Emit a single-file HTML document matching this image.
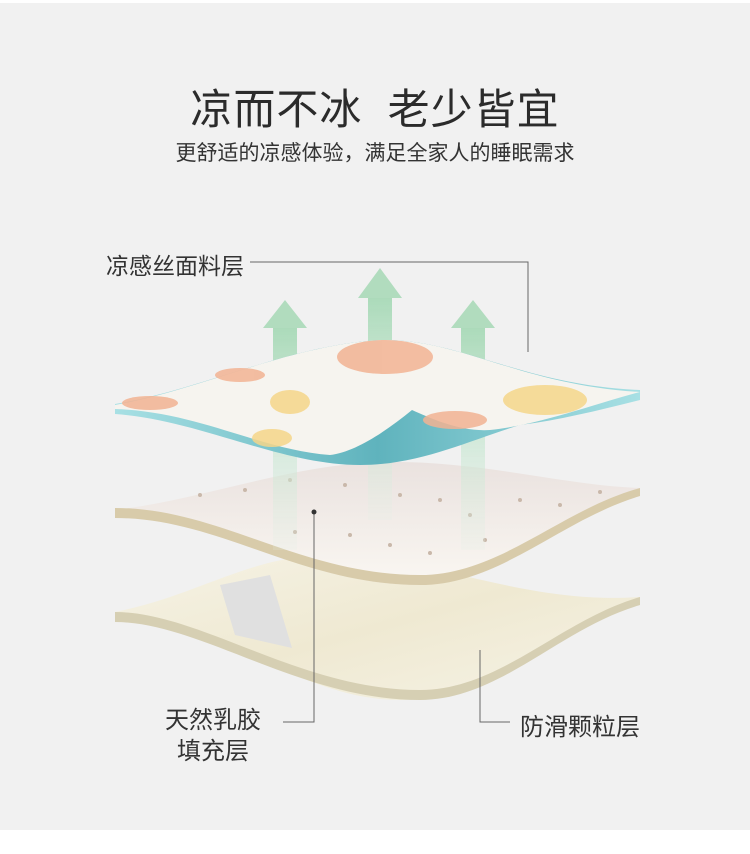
<!DOCTYPE html>
<html><head><meta charset="utf-8"><style>
html,body{margin:0;padding:0;background:#fff}
#c{position:relative;width:750px;height:854px;overflow:hidden;font-family:"Liberation Sans","Noto Sans CJK SC",sans-serif;color:#333}
#bg{position:absolute;left:0;top:3px;width:750px;height:827px;background:#f1f1f1}
.t{position:absolute;white-space:nowrap}
</style></head><body><div id="c">
<div id="bg"></div>
<div class="t" style="left:0;width:750px;text-align:center;top:76px;font-size:42px;color:#2b2b2b;letter-spacing:1px">凉而不冰&nbsp;&nbsp;老少皆宜</div>
<div class="t" style="left:0;width:750px;text-align:center;top:137px;font-size:21px;color:#333">更舒适的凉感体验，满足全家人的睡眠需求</div>
<div class="t" style="left:106px;top:247px;font-size:23px;color:#333">凉感丝面料层</div>
<div class="t" style="left:165px;top:700px;font-size:24px;color:#333">天然乳胶</div>
<div class="t" style="left:177px;top:731px;font-size:24px;color:#333">填充层</div>
<div class="t" style="left:520px;top:707px;font-size:24px;color:#333">防滑颗粒层</div>
<svg width="750" height="854" style="position:absolute;left:0;top:0">
<defs>
<linearGradient id="ga" x1="0" y1="0" x2="0" y2="1">
<stop offset="0" stop-color="#9fd6b0"/><stop offset="0.5" stop-color="#c4e6cf" stop-opacity=".8"/><stop offset="1" stop-color="#e0efe4" stop-opacity=".2"/></linearGradient>
<linearGradient id="gb" x1="0" y1="0" x2="1" y2="0">
<stop offset="0" stop-color="#a8e0e4"/><stop offset=".5" stop-color="#5fb3bd"/><stop offset="1" stop-color="#a8e0e4"/></linearGradient>
<linearGradient id="gm" x1="0" y1="0" x2="0" y2="1">
<stop offset="0" stop-color="#eae2df"/><stop offset="1" stop-color="#faf7f2"/></linearGradient>
<linearGradient id="gq" x1="0" y1="0" x2="1" y2="1">
<stop offset="0" stop-color="#f6f3e6"/><stop offset=".5" stop-color="#efe9d2"/><stop offset="1" stop-color="#f6f3e6"/></linearGradient>
</defs>
<!-- bottom layer -->
<path d="M115,612 C200,595 250,555 330,555 C430,555 520,605 640,597 L640,605 C560,620 480,700 400,700 C300,700 220,620 115,620 Z" fill="url(#gq)"/>
<path d="M115,612 C200,612 300,690 420,690 C500,690 560,620 640,597 L640,605 C560,628 500,700 420,700 C300,700 200,622 115,622 Z" fill="#d6cfb3"/>
<polygon points="220,585 270,575 292,648 235,635" fill="#e0e0e0"/>
<!-- middle layer -->
<path d="M115,510 C200,500 290,465 380,462 C480,460 560,485 640,488 L640,496 C560,520 480,585 420,585 C300,585 220,515 115,515 Z" fill="url(#gm)"/>
<path d="M115,508 C220,508 300,575 420,575 C500,575 560,510 640,488 L640,496 C560,520 500,585 420,585 C300,585 220,518 115,518 Z" fill="#d8cbaa"/>
<g fill="#c9b8aa"><circle cx="200" cy="495" r="2"/><circle cx="245" cy="490" r="2"/><circle cx="290" cy="480" r="2"/><circle cx="345" cy="485" r="2"/><circle cx="400" cy="495" r="2"/><circle cx="440" cy="500" r="2"/><circle cx="470" cy="515" r="2"/><circle cx="520" cy="500" r="2"/><circle cx="560" cy="505" r="2"/><circle cx="295" cy="532" r="2"/><circle cx="350" cy="535" r="2"/><circle cx="390" cy="545" r="2"/><circle cx="430" cy="553" r="2"/><circle cx="485" cy="540" r="2"/><circle cx="600" cy="492" r="2"/></g>
<!-- arrows -->
<g opacity=".85">
<rect x="273" y="325" width="24" height="225" fill="url(#ga)"/><polygon points="263,328 285,300 307,328" fill="#a6d9b6"/>
<rect x="368" y="295" width="24" height="225" fill="url(#ga)"/><polygon points="358,298 380,268 402,298" fill="#a6d9b6"/>
<rect x="461" y="325" width="24" height="225" fill="url(#ga)"/><polygon points="451,328 473,300 495,328" fill="#a6d9b6"/>
</g>
<!-- top layer -->
<path d="M115,404 C200,390 290,345 380,340 C460,338 520,385 640,390 L640,400 C600,410 560,420 520,425 C470,440 420,465 360,465 C280,465 200,420 115,414 Z" fill="url(#gb)"/>
<path d="M115,405 C200,390 290,345 380,340 C460,338 520,385 640,392 C600,402 540,425 490,430 C460,432 430,418 412,410 C385,432 355,452 330,455 C260,450 200,412 115,409 Z" fill="#f6f4ef"/>
<g opacity=".85">
<ellipse cx="385" cy="357" rx="48" ry="17" fill="#f2b393"/>
<ellipse cx="545" cy="400" rx="42" ry="15" fill="#f5d68a"/>
<ellipse cx="290" cy="402" rx="20" ry="12" fill="#f5d68a"/>
<ellipse cx="455" cy="420" rx="32" ry="9" fill="#f2b393"/>
<ellipse cx="150" cy="403" rx="28" ry="7" fill="#f2b393"/>
<ellipse cx="272" cy="438" rx="20" ry="9" fill="#f5d68a"/>
<ellipse cx="240" cy="375" rx="25" ry="7" fill="#f2b393"/>
</g>
<!-- leader lines -->
<g stroke="#666" stroke-width="1" fill="none">
<polyline points="250,262 528,262 528,352"/>
<polyline points="314,512 314,722 283,722"/>
<polyline points="480,650 480,722 510,722"/>
</g>
<circle cx="314" cy="512" r="2.5" fill="#333"/>
</svg>
</div></body></html>
